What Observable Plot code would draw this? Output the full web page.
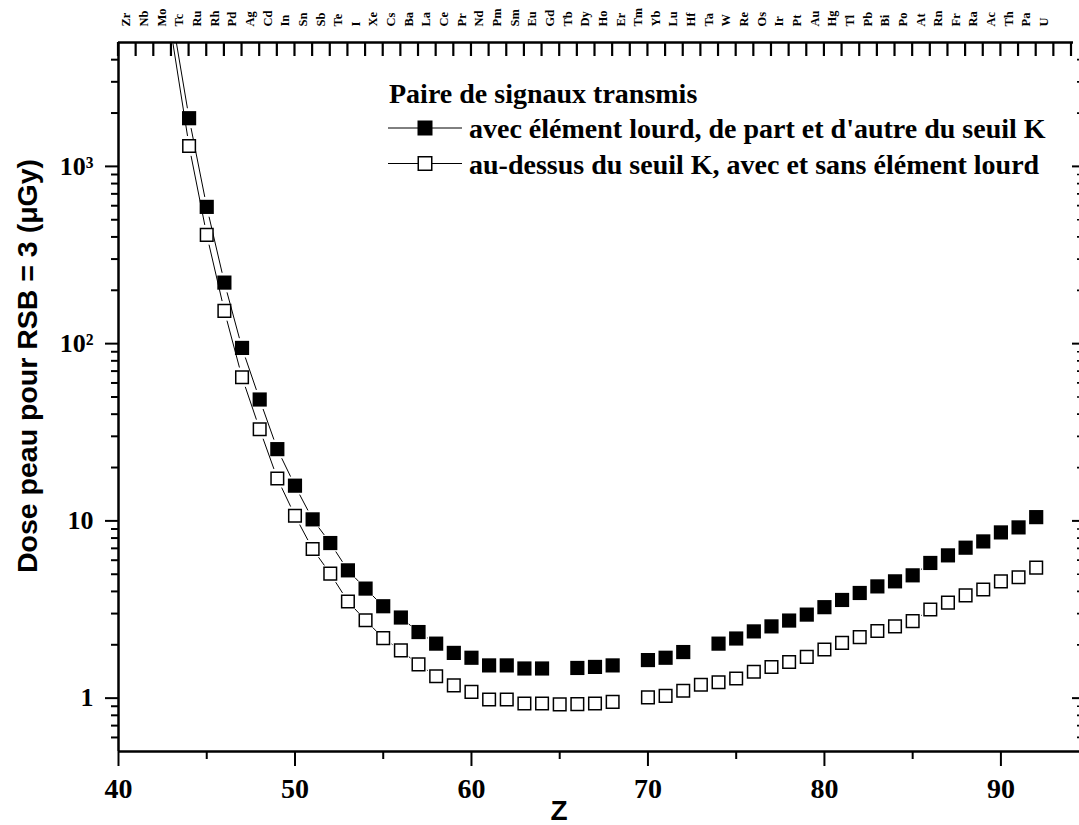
<!DOCTYPE html>
<html>
<head>
<meta charset="utf-8">
<script src="https://cdn.jsdelivr.net/npm/d3@7"></script>
<script src="https://cdn.jsdelivr.net/npm/@observablehq/plot@0.6"></script>
<style>
  html, body { margin: 0; padding: 0; background: #fff; }
  #chart svg { display: block; }
</style>
</head>
<body>
<div id="chart"></div>
<script>
// ---------- data ----------
const Z = [43,44,45,46,47,48,49,50,51,52,53,54,55,56,57,58,59,60,61,62,63,64,65,66,67,68,69,70,71,72,73,74,75,76,77,78,79,80,81,82,83,84,85,86,87,88,89,90,91,92];
// filled squares: avec élément lourd, de part et d'autre du seuil K
const doseAvec = [7300,1870,591,221,94.6,48.4,25.4,15.8,10.2,7.50,5.26,4.15,3.30,2.85,2.36,2.03,1.80,1.69,1.53,1.53,1.47,1.47,null,1.48,1.50,1.53,null,1.64,1.69,1.82,null,2.03,2.17,2.38,2.54,2.74,2.96,3.26,3.58,3.92,4.27,4.56,4.93,5.79,6.39,7.06,7.66,8.61,9.19,10.5];
// open squares: au-dessus du seuil K, avec et sans élément lourd
const doseDessus = [5600,1304,411,153,64.6,32.9,17.35,10.7,6.94,5.04,3.51,2.75,2.18,1.86,1.55,1.33,1.18,1.085,0.983,0.983,0.933,0.933,0.922,0.925,0.933,0.953,null,1.01,1.03,1.10,1.19,1.23,1.29,1.41,1.50,1.60,1.71,1.88,2.05,2.21,2.39,2.54,2.72,3.16,3.46,3.80,4.10,4.56,4.81,5.45];

const seriesNames = ["avec élément lourd, de part et d'autre du seuil K", "au-dessus du seuil K, avec et sans élément lourd"];
const legendTitle = "Paire de signaux transmis";

const elementZ = [40,41,42,43,44,45,46,47,48,49,50,51,52,53,54,55,56,57,58,59,60,61,62,63,64,65,66,67,68,69,70,71,72,73,74,75,76,77,78,79,80,81,82,83,84,85,86,87,88,89,90,91,92];
const elements = ["Zr","Nb","Mo","Tc","Ru","Rh","Pd","Ag","Cd","In","Sn","Sb","Te","I","Xe","Cs","Ba","La","Ce","Pr","Nd","Pm","Sm","Eu","Gd","Tb","Dy","Ho","Er","Tm","Yb","Lu","Hf","Ta","W","Re","Os","Ir","Pt","Au","Hg","Tl","Pb","Bi","Po","At","Rn","Fr","Ra","Ac","Th","Pa","U"];
const topTicks = [40,41,42,43,44,45,46,47,48,49,50,51,52,53,54,55,56,57,58,59,60,61,62,63,64,65,66,67,68,69,70,71,72,73,74,75,76,77,78,79,80,81,82,83,84,85,86,87,88,89,90,91,92,93,94];

const xDomain = [40, 94];
const xTicks = [40, 50, 60, 70, 80, 90];
const xMinorTicks = [45, 55, 65, 75, 85];
const yDomain = [0.5, 5000];
const yTicks = [1, 10, 100, 1000];
const yTickLabels = ["1", "10", "10²", "10³"];
const yMinorTicks = [0.6,0.7,0.8,0.9, 2,3,4,5,6,7,8,9, 20,30,40,50,60,70,80,90, 200,300,400,500,600,700,800,900, 2000,3000,4000];

const xLabel = "Z";
const yLabel = "Dose peau pour RSB = 3 (μGy)";

// ---------- derived tables ----------
const points = vals => Z.map((z, i) => ({z, v: vals[i]})).filter(d => d.v != null);
const segments = vals => {
  const out = [];
  for (let i = 0; i < Z.length - 1; i++) {
    if (vals[i] != null && vals[i + 1] != null && Z[i + 1] - Z[i] === 1)
      out.push({x1: Z[i], y1: vals[i], x2: Z[i + 1], y2: vals[i + 1]});
  }
  return out;
};

const serif = "'Liberation Serif', 'Times New Roman', serif";
const sans = "'Liberation Sans', Arial, sans-serif";
const blank = () => "";

const W = 1079, H = 825, mL = 118, mR = 8, mT = 42, mB = 74;
const topTickLen = 14;

const plot = Plot.plot({
  width: W,
  height: H,
  marginLeft: mL,
  marginRight: mR,
  marginTop: mT,
  marginBottom: mB,
  style: {fontFamily: serif, background: "white", color: "black", overflow: "visible"},
  x: {domain: xDomain, axis: null},
  y: {type: "log", domain: yDomain, axis: null},
  marks: [
    // connecting lines with a gap around each symbol
    Plot.arrow(segments(doseDessus), {x1: "x1", y1: "y1", x2: "x2", y2: "y2", stroke: "black", strokeWidth: 1, headLength: 0, inset: 10.5, clip: true}),
    Plot.arrow(segments(doseAvec), {x1: "x1", y1: "y1", x2: "x2", y2: "y2", stroke: "black", strokeWidth: 1, headLength: 0, inset: 10.5, clip: true}),
    Plot.dot(points(doseDessus), {x: "z", y: "v", symbol: "square", r: 7.1, fill: "white", stroke: "black", strokeWidth: 1.5, clip: true}),
    Plot.dot(points(doseAvec), {x: "z", y: "v", symbol: "square", r: 8, fill: "black", stroke: "none", clip: true}),

    // element symbols above the frame
    Plot.text(elements, {x: elementZ, text: d => d, frameAnchor: "top", dy: -16, dx: 3, rotate: -90,
      textAnchor: "start", fontSize: 12.5, fontWeight: "bold", fontFamily: serif, fill: "black"}),

    // spines
    Plot.ruleX([xDomain[0]], {stroke: "black", strokeWidth: 2.5}),
    Plot.ruleY([yDomain[0]], {stroke: "black", strokeWidth: 2.5, insetRight: -8}),
    Plot.ruleY([yDomain[1]], {stroke: "black", strokeWidth: 2.5, insetRight: -2}),

    // bottom axis
    Plot.axisX({anchor: "bottom", ticks: xTicks, tickSize: 15, tickPadding: 12, strokeWidth: 2,
      fontSize: 28, fontWeight: "bold", fontFamily: serif, label: null, tickFormat: d => String(d)}),
    Plot.axisX({anchor: "bottom", ticks: xMinorTicks, tickSize: 8, strokeWidth: 2, tickFormat: blank, label: null}),

    // left axis
    Plot.axisY({anchor: "left", ticks: yTicks, tickSize: 13, tickPadding: 12, strokeWidth: 2,
      fontSize: 26, fontWeight: "bold", fontFamily: serif, label: null,
      tickFormat: d => yTickLabels[yTicks.indexOf(d)]}),
    Plot.axisY({anchor: "left", ticks: yMinorTicks, tickSize: 7, strokeWidth: 2, tickFormat: blank, label: null}),

    // right axis
    Plot.axisY({anchor: "right", ticks: yTicks, tickSize: 7, strokeWidth: 2, tickFormat: blank, label: null}),
    Plot.axisY({anchor: "right", ticks: yMinorTicks, tickSize: 2, dx: 5, strokeWidth: 1.7, tickFormat: blank, label: null})
  ]
});

document.getElementById("chart").appendChild(plot);

const svg = d3.select(plot);

// top axis: one tick per element, pointing inward (positions from the plot's own x scale)
const xs = plot.scale("x");
svg.append("g").attr("stroke", "black").attr("stroke-width", 2.2)
  .selectAll("line").data(topTicks).join("line")
  .attr("x1", d => xs.apply(d)).attr("x2", d => xs.apply(d))
  .attr("y1", mT).attr("y2", mT + topTickLen);

// ---------- legend and axis titles ----------
const leg = svg.append("g").attr("font-family", serif).attr("font-weight", "bold").attr("font-size", 28)
  .attr("fill", "black").attr("text-anchor", "start");
leg.append("text").attr("x", 389).attr("y", 103).attr("text-anchor", "start").text(legendTitle);
const rows = [
  {y: 128, fill: "black", stroke: "none", side: 15, sw: 0},
  {y: 163.5, fill: "white", stroke: "black", side: 13.5, sw: 1.5}
];
rows.forEach((r, i) => {
  leg.append("line").attr("x1", 388).attr("x2", 462).attr("y1", r.y).attr("y2", r.y).attr("stroke", "black").attr("stroke-width", 1);
  leg.append("rect").attr("x", 425 - r.side / 2).attr("y", r.y - r.side / 2).attr("width", r.side).attr("height", r.side)
    .attr("fill", r.fill).attr("stroke", r.stroke).attr("stroke-width", r.sw);
  leg.append("text").attr("x", 469).attr("y", r.y + 10).attr("text-anchor", "start").text(seriesNames[i]);
});

svg.append("text").attr("x", 559).attr("y", 820).attr("text-anchor", "middle")
  .attr("font-family", sans).attr("font-weight", "bold").attr("font-size", 28).attr("fill", "black").text(xLabel);
svg.append("text").attr("transform", "translate(37,366) rotate(-90)").attr("text-anchor", "middle")
  .attr("font-family", sans).attr("font-weight", "bold").attr("font-size", 28.5).attr("fill", "black").text(yLabel);
</script>
</body>
</html>
